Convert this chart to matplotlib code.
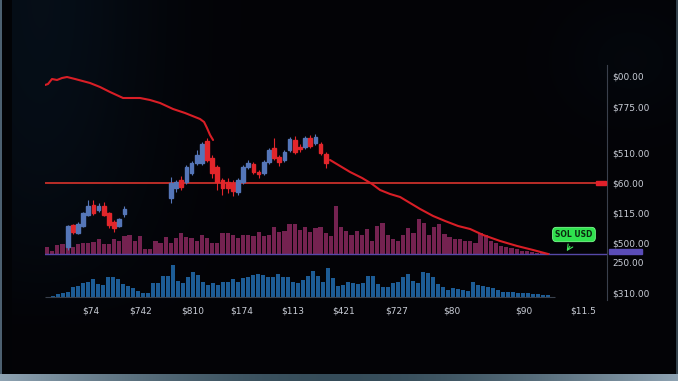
import numpy as np
import matplotlib
matplotlib.use("Agg")
import matplotlib.pyplot as plt
from matplotlib.patches import Rectangle

# ---------------- data ----------------
# maroon volume bars (upper volume band), heights above band baseline
vol_red = [6.5, 2.5, 8.5, 9.5, 5.5, 6.5, 9.5, 10.5, 10.5, 11.5, 14.5, 9.5, 9.5, 14.5, 12.5,
           17.5, 18.5, 12.5, 17.5, 4.5, 4.5, 12.5, 10.5, 16.5, 10.5, 15.5, 20.5, 16.5, 15.5,
           12.5, 18.5, 15.5, 10.5, 10.5, 20.5, 20.5, 18.5, 15.5, 18.5, 18.5, 17.5, 21.5, 17.5,
           18.5, 26.5, 21.5, 22.5, 29.5, 29.5, 23.5, 26.5,
           21.5, 25.5, 26.5, 20.5, 17.5, 47.5, 26.5, 22.5, 18.5, 22.5, 18.5, 24.5, 12.5, 27.5,
           30.5, 18.5, 14.5, 12.5, 18.5, 25.5, 20.5, 34.5, 30.5, 18.5, 26.5, 29.5, 19.5, 16.5,
           14.5, 14.5, 12.5, 12.5, 10.5, 20.5, 18.5, 12.5, 10.5, 7.5, 6.5, 5.5, 4.5, 2.5, 2.5,
           1.5, 0.5, 0.5, 0.5]

# blue volume bars (lower band)
vol_blue = [1.3, 2.7, 3.7, 4.7, 10.3, 11.0, 13.7, 15.3, 17.7, 12.7, 12.0, 19.7, 19.7, 17.7,
            13.0, 11.0, 8.7, 6.3, 4.3, 3.7, 13.7, 13.7, 21.3, 21.0, 32.0, 16.3, 13.7, 19.7,
            25.3, 22.0, 15.3, 12.0, 13.7, 12.0, 14.7, 15.3, 18.0, 14.7, 18.7, 20.3, 22.0, 23.0,
            22.0, 20.3, 20.3, 23.0, 20.3, 19.7, 14.7, 13.7, 17.0, 21.0, 26.3, 21.0, 15.3, 28.7,
            18.7, 11.0, 12.0, 15.3, 14.3, 13.0, 13.7, 21.0, 21.0, 12.7, 10.3, 10.3, 13.7, 14.7,
            19.7, 23.0, 16.3, 13.7, 25.3, 24.3, 19.7, 13.0, 9.7, 7.0, 8.7, 7.7, 7.0, 6.3, 15.3,
            12.0, 11.0, 9.7, 8.7, 7.0, 5.3, 4.7, 4.7, 4.3, 3.7, 3.7, 3.0, 2.7, 2.0, 2.0]

# candles: index, open, high, low, close
candles = [
    (4, 53, 75, 50, 74), (5, 75, 76, 66, 68), (6, 67, 78, 66, 76), (7, 74, 88, 73, 87),
    (8, 85, 100, 84, 94), (9, 95, 100, 85, 87), (10, 90, 97, 88, 94), (11, 94, 98, 84, 85),
    (12, 87, 88, 72, 75), (13, 78, 80, 68, 72), (14, 74, 82, 73, 81), (15, 86, 94, 83, 91),
    (24, 102, 123, 97, 117), (25, 112, 120, 108, 118), (26, 120, 124, 110, 113),
    (27, 118, 135, 116, 133), (28, 127, 139, 125, 137), (29, 137, 150, 135, 145),
    (30, 137, 158, 135, 156), (31, 159, 162, 138, 140), (32, 142, 145, 122, 127),
    (33, 133, 135, 110, 118), (34, 120, 122, 105, 112), (35, 118, 122, 107, 112),
    (36, 117, 120, 104, 109), (37, 108, 122, 105, 120), (38, 118, 135, 116, 133),
    (39, 133, 140, 131, 137), (40, 136, 138, 126, 128), (41, 128, 130, 122, 126),
    (42, 127, 140, 125, 138), (43, 138, 152, 136, 150), (44, 152, 162, 140, 142),
    (45, 143, 145, 134, 138), (46, 140, 150, 138, 148), (47, 150, 163, 148, 161),
    (48, 160, 164, 146, 148), (49, 153, 156, 148, 151), (50, 153, 164, 151, 162),
    (51, 162, 165, 152, 154), (52, 157, 166, 155, 163), (53, 156, 158, 145, 147),
    (54, 146, 148, 132, 137),
]

# red trend curve (two visible segments)
curve_x = [-0.39, 0.19, 0.97, 1.94, 2.91, 3.88, 5.43, 8.33, 10.27, 12.21, 14.73, 18.02,
           19.96, 21.9, 24.42, 26.74, 29.65, 30.43, 31.0, 31.59, 32.17, np.nan,
           54.84, 56.78, 58.72, 61.05, 62.98, 64.53, 66.47, 68.41, 70.35, 72.29, 74.81,
           77.13, 79.65, 81.98, 84.5, 87.79, 91.09, 94.19, 97.09]
curve_y = [215, 216, 221, 220, 222, 223, 221, 217, 213, 208, 202, 202, 200, 197, 191, 187,
           181, 178, 172, 165, 160, np.nan,
           140, 134, 128, 122, 116, 110, 106, 103, 97, 91, 84, 79, 74, 71, 65, 59, 54, 50, 46]

support_level = 117
band_level = 46

y_ticks = [224, 193, 147, 117, 87, 57, 37, 7]
y_labels = ["$00.00", "$775.00", "$510.00", "$60.00", "$115.00", "$500.00", "250.00", "$310.00"]
x_ticks = [8.53, 18.22, 28.29, 37.79, 47.67, 57.56, 67.83, 78.49, 92.44, 103.88]
x_labels = ["$74", "$742", "$810", "$174", "$113", "$421", "$727", "$80", "$90", "$11.5"]

# ---------------- figure ----------------
W, H = 678, 381
fig = plt.figure(figsize=(W / 100, H / 100), dpi=100)
fig.patch.set_facecolor("#030306")

# background: dark monitor screen with bluish left glow and a light bezel strip at bottom
bg = fig.add_axes([0, 0, 1, 1])
yy, xx = np.mgrid[0:H, 0:W].astype(float)
screen = np.array([0.012, 0.012, 0.025])
glow = np.array([0.025, 0.06, 0.10])
g = np.exp(-((xx - 40) / 110) ** 2) * np.clip(1 - (yy / 330) ** 2, 0, 1) * 0.9
g += np.exp(-((xx - 630) / 70) ** 2) * np.exp(-((yy - 60) / 60) ** 2) * 0.3
img = screen + g[..., None] * (glow - screen)
# left dark bezel edge
img = np.where((xx < 12)[..., None], np.array([0.01, 0.015, 0.025]), img)
img = np.where((xx < 2)[..., None], np.array([0.30, 0.38, 0.44]), img)
img = np.where((xx > W - 3)[..., None], np.array([0.20, 0.26, 0.30]), img)
# bottom light strip
s = xx / W
strip = np.stack([0.56 - 0.35 * np.sin(np.pi * s), 0.64 - 0.34 * np.sin(np.pi * s),
                  0.70 - 0.35 * np.sin(np.pi * s)], axis=-1)
img = np.where((yy >= 374)[..., None], strip, img)
bg.imshow(np.clip(img, 0, 1), extent=[0, W, H, 0], aspect="auto", interpolation="bilinear")
bg.set_axis_off()

ax = fig.add_axes([45 / W, (H - 300) / H, 562 / W, 235 / H])
ax.set_facecolor("none")
ax.set_xlim(-0.39, 108.5)
ax.set_ylim(0, 235)

# maroon volume
xr = np.arange(len(vol_red))
ax.bar(xr, vol_red, bottom=band_level + 0.5, width=0.82, color="#742250", edgecolor="none",
       zorder=2)
# blue volume
xb = np.linspace(1.16, 97.1, len(vol_blue))
ax.bar(xb, vol_blue, bottom=3, width=0.8, color="#1d5c95", edgecolor="none", zorder=2)
ax.hlines(3, -0.39, 98.4, color="#39404c", lw=0.8, zorder=3)

# levels
ax.axhline(band_level, color="#5548a8", lw=1.0, zorder=3)
ax.hlines(support_level, -0.39, 106.3, color="#c8302a", lw=1.3, zorder=3)
ax.add_patch(Rectangle((106.4, support_level - 2.2), 2.0, 4.6, color="#e0202a", zorder=4,
                       clip_on=False))
ax.add_patch(Rectangle((108.9, band_level), 6.4, 5, color="#5a4cb8", zorder=4, clip_on=False))

# candles
for i, o, h, l, c in candles:
    col = "#5576b8" if c >= o else "#e2262b"
    ax.vlines(i, l, h, color=col, lw=0.8, zorder=5)
    ax.add_patch(Rectangle((i - 0.36, min(o, c)), 0.72, max(abs(c - o), 1.2), color=col,
                           zorder=5))

# trend curve
ax.plot(curve_x, curve_y, color="#d91e26", lw=1.5, zorder=6, solid_capstyle="round")

# SOL USD tag
ax.text(102.1, 65.5, "SOL USD", fontsize=5.5, color="#0b2a10", ha="center", va="center",
        fontweight="bold", zorder=8,
        bbox=dict(boxstyle="round,pad=0.35,rounding_size=0.5", fc="#2fe24e", ec="#7cff8e",
                  lw=0.6))
ax.annotate("", xy=(100.4, 46.5), xytext=(101.6, 56),
            arrowprops=dict(arrowstyle="->", color="#3fe85a", lw=0.8), zorder=8)

# axes styling
for s_ in ["top", "left", "bottom"]:
    ax.spines[s_].set_visible(False)
ax.spines["right"].set_color("#3a404c")
ax.spines["right"].set_linewidth(0.8)
ax.yaxis.tick_right()
ax.set_yticks(y_ticks)
ax.set_yticklabels(y_labels)
ax.set_xticks(x_ticks)
ax.set_xticklabels(x_labels)
ax.tick_params(axis="y", length=0, pad=4, labelsize=6.5, labelcolor="#c9cdd6")
ax.tick_params(axis="x", length=0, pad=5, labelsize=6.5, labelcolor="#c9cdd6")

fig.savefig("out.png", dpi=100, facecolor=fig.get_facecolor())
